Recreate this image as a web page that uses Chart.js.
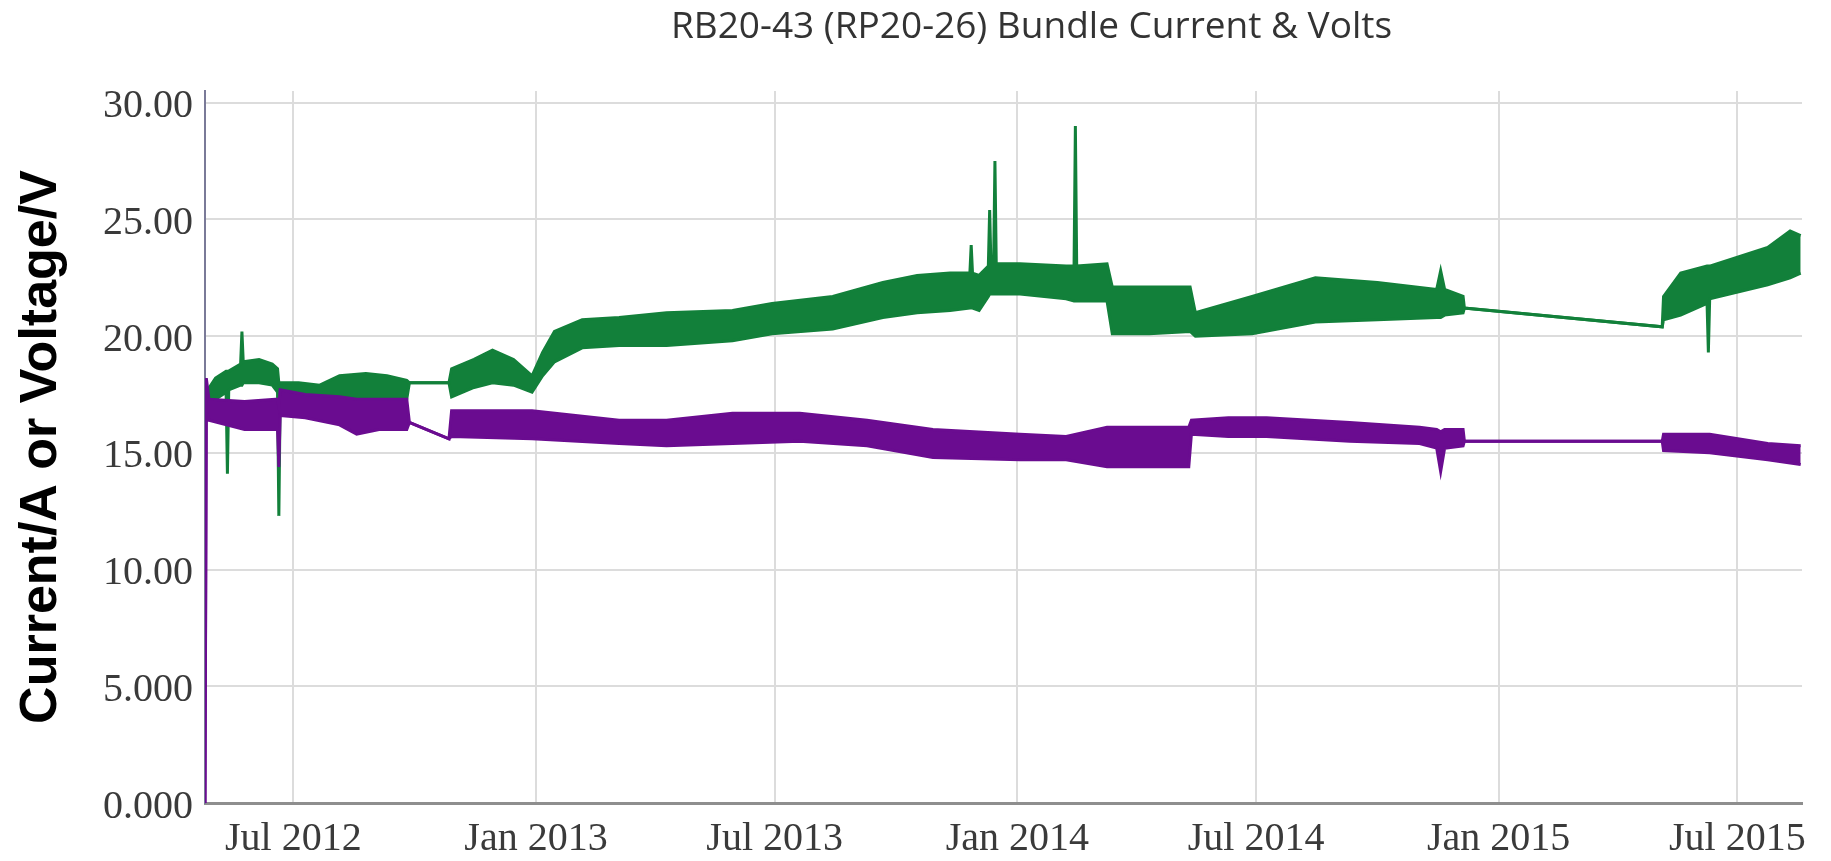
<!DOCTYPE html>
<html>
<head>
<meta charset="utf-8">
<script src="https://cdn.jsdelivr.net/npm/chart.js@4.4.1/dist/chart.umd.min.js"></script>
<style>
  html, body { margin: 0; padding: 0; background: #fff; }
  #wrap { width: 1831px; height: 861px; }
</style>
</head>
<body>
<div id="wrap"><canvas id="chart" width="1831" height="861"></canvas></div>
<script>
const chartTitle = 'RB20-43 (RP20-26) Bundle Current & Volts';
const yAxisTitle = 'Current/A or Voltage/V';

const xStart = '2012-04-25';
const xEnd = '2015-08-19';
const xTickDates = ['2012-07-01', '2013-01-01', '2013-07-01', '2014-01-01', '2014-07-01', '2015-01-01', '2015-07-01'];
const xTickLabels = ['Jul 2012', 'Jan 2013', 'Jul 2013', 'Jan 2014', 'Jul 2014', 'Jan 2015', 'Jul 2015'];
const yTickValues = [0, 5, 10, 15, 20, 25, 30];
const yTickLabels = ['0.000', '5.000', '10.00', '15.00', '20.00', '25.00', '30.00'];

// voltage (green): upper and lower edge of the noisy band
const voltDates = [
  '2012-04-26', '2012-05-03', '2012-05-11', '2012-05-12', '2012-05-13', '2012-05-22', '2012-05-23', '2012-05-24',
  '2012-06-05', '2012-06-15', '2012-06-19', '2012-06-20', '2012-06-21', '2012-07-05', '2012-07-21', '2012-08-05',
  '2012-08-25', '2012-09-10', '2012-09-25', '2012-09-27', '2012-10-27', '2012-10-29', '2012-11-15', '2012-11-29',
  '2012-12-15', '2012-12-29', '2013-01-06', '2013-01-15', '2013-02-05', '2013-03-05', '2013-04-10', '2013-05-30',
  '2013-06-29', '2013-08-14', '2013-09-21', '2013-10-17', '2013-11-11', '2013-11-26', '2013-11-27', '2013-11-28',
  '2013-12-03', '2013-12-10', '2013-12-11', '2013-12-12', '2013-12-14', '2013-12-15', '2013-12-16', '2014-01-03',
  '2014-02-07', '2014-02-13', '2014-02-14', '2014-02-15', '2014-03-10', '2014-03-14', '2014-04-11', '2014-05-12',
  '2014-05-16', '2014-06-28', '2014-08-15', '2014-10-01', '2014-11-15', '2014-11-18', '2014-11-21', '2014-12-05',
  '2014-12-06', '2015-05-05', '2015-05-06', '2015-05-19', '2015-06-08', '2015-06-09', '2015-06-10', '2015-07-24',
  '2015-08-10', '2015-08-18'
];
const voltHigh = [
  17.6, 18.2, 18.5, 18.5, 18.5, 18.8, 20.2, 18.9,
  19.0, 18.8, 18.6, 18.0, 18.0, 18.0, 17.9, 18.3,
  18.4, 18.3, 18.1, 18.0, 18.0, 18.6, 19.0, 19.4,
  19.0, 18.3, 19.3, 20.2, 20.7, 20.8, 21.0, 21.1,
  21.4, 21.7, 22.3, 22.6, 22.7, 22.7, 23.9, 22.7,
  22.6, 23.0, 25.4, 23.0, 23.0, 27.5, 23.1, 23.1,
  23.0, 23.0, 29.0, 23.0, 23.1, 22.1, 22.1, 22.1,
  21.0, 21.7, 22.5, 22.3, 22.0, 22.8, 22.0, 21.7,
  21.2, 20.4, 21.7, 22.7, 23.0, 23.0, 23.0, 23.8,
  24.5, 24.3
];
const voltLow = [
  17.0, 17.3, 17.6, 14.1, 17.7, 17.9, 17.9, 18.0,
  18.0, 17.9, 17.6, 12.3, 17.4, 17.4, 17.3, 17.4,
  17.3, 17.2, 17.3, 18.0, 18.0, 17.4, 17.8, 18.0,
  17.9, 17.6, 18.3, 18.9, 19.5, 19.6, 19.6, 19.8,
  20.1, 20.3, 20.8, 21.0, 21.1, 21.2, 21.2, 21.2,
  21.1, 21.7, 21.8, 21.8, 21.8, 21.8, 21.8, 21.8,
  21.6, 21.5, 21.5, 21.5, 21.5, 20.1, 20.1, 20.2,
  20.0, 20.1, 20.6, 20.7, 20.8, 20.8, 20.9, 21.0,
  21.2, 20.4, 20.7, 20.9, 21.4, 19.3, 21.6, 22.2,
  22.5, 22.7
];

// current (purple): upper and lower edge of the noisy band
const currDates = [
  '2012-04-25', '2012-04-26', '2012-04-28', '2012-05-25', '2012-06-19', '2012-06-20', '2012-06-21', '2012-07-10',
  '2012-08-05', '2012-08-18', '2012-09-04', '2012-09-25', '2012-09-27', '2012-10-27', '2012-10-29', '2012-12-29',
  '2013-03-05', '2013-04-10', '2013-05-30', '2013-07-20', '2013-09-09', '2013-10-29', '2014-01-03', '2014-02-07',
  '2014-03-10', '2014-05-11', '2014-05-13', '2014-06-10', '2014-07-09', '2014-09-10', '2014-11-02', '2014-11-15',
  '2014-11-18', '2014-11-21', '2014-12-05', '2014-12-06', '2015-05-05', '2015-05-06', '2015-06-10', '2015-07-24',
  '2015-08-18'
];
const currHigh = [
  0.0, 18.2, 17.3, 17.2, 17.3, 17.0, 17.7, 17.5,
  17.4, 17.3, 17.3, 17.3, 16.3, 15.6, 16.8, 16.8,
  16.4, 16.4, 16.7, 16.7, 16.4, 16.0, 15.8, 15.7,
  16.1, 16.1, 16.4, 16.5, 16.5, 16.3, 16.1, 16.0,
  15.9, 16.0, 16.0, 15.5, 15.5, 15.8, 15.8, 15.4,
  15.3
];
const currLow = [
  0.0, 16.8, 16.4, 16.0, 16.0, 14.4, 16.6, 16.5,
  16.2, 15.8, 16.0, 16.0, 16.3, 15.6, 15.7, 15.6,
  15.4, 15.3, 15.4, 15.5, 15.3, 14.8, 14.7, 14.7,
  14.4, 14.4, 15.8, 15.7, 15.7, 15.5, 15.4, 15.2,
  14.2, 15.2, 15.3, 15.5, 15.5, 15.1, 15.0, 14.7,
  14.5
];

const green = '#12803a';
const purple = '#6a0c90';
const serif = '"Liberation Serif", "Times New Roman", serif';

const toTime = s => new Date(s).getTime();
const points = (dates, vals) => dates.map((d, i) => ({ x: toTime(d), y: vals[i] }));

function bandLine(data, color, fill) {
  return {
    data: data,
    borderColor: color,
    backgroundColor: color,
    borderWidth: 3,
    pointRadius: 0,
    tension: 0,
    fill: fill
  };
}

const titlePlugin = {
  id: 'topTitle',
  afterDraw(chart) {
    const ctx = chart.ctx;
    const area = chart.chartArea;
    ctx.save();
    ctx.font = '37px "Open Sans"';
    ctx.fillStyle = '#333';
    ctx.textAlign = 'center';
    ctx.textBaseline = 'middle';
    ctx.fillText(chartTitle, (area.left + area.right) / 2 + 28, 27);
    ctx.restore();
  }
};

const ctx = document.getElementById('chart').getContext('2d');
new Chart(ctx, {
  type: 'line',
  data: {
    datasets: [
      bandLine(points(currDates, currHigh), purple, false),
      bandLine(points(currDates, currLow), purple, '-1'),
      bandLine(points(voltDates, voltHigh), green, false),
      bandLine(points(voltDates, voltLow), green, '-1')
    ]
  },
  options: {
    responsive: false,
    animation: false,
    layout: { padding: { top: 91, right: 29, left: 0, bottom: 0 } },
    plugins: {
      legend: { display: false },
      tooltip: { enabled: false },
      title: { display: false }
    },
    scales: {
      x: {
        type: 'linear',
        min: toTime(xStart),
        max: toTime(xEnd),
        afterBuildTicks: scale => { scale.ticks = xTickDates.map(d => ({ value: toTime(d) })); },
        afterFit: scale => { scale.height = 58; },
        ticks: {
          callback: (value, index) => xTickLabels[index],
          font: { family: serif, size: 40 },
          color: '#3a3a3a',
          padding: 12,
          maxRotation: 0,
          autoSkip: false
        },
        grid: { color: '#dcdcdc', lineWidth: 2, drawTicks: false },
        border: { color: '#8e8e8e', width: 3 }
      },
      y: {
        min: 0,
        max: 30.5,
        afterBuildTicks: scale => { scale.ticks = yTickValues.map(v => ({ value: v })); },
        afterFit: scale => { scale.width = 205; },
        ticks: {
          callback: (value, index) => yTickLabels[index],
          font: { family: serif, size: 40 },
          color: '#3a3a3a',
          padding: 12,
          labelOffset: 4
        },
        grid: { color: '#dcdcdc', lineWidth: 2, drawTicks: false },
        border: { color: '#7a7a98', width: 2 },
        title: {
          display: true,
          text: yAxisTitle,
          font: { family: '"Liberation Sans", Arial, sans-serif', size: 52, weight: 'bold' },
          color: '#000',
          padding: { top: 10, bottom: 0 }
        }
      }
    }
  },
  plugins: [titlePlugin]
});
</script>
</body>
</html>
